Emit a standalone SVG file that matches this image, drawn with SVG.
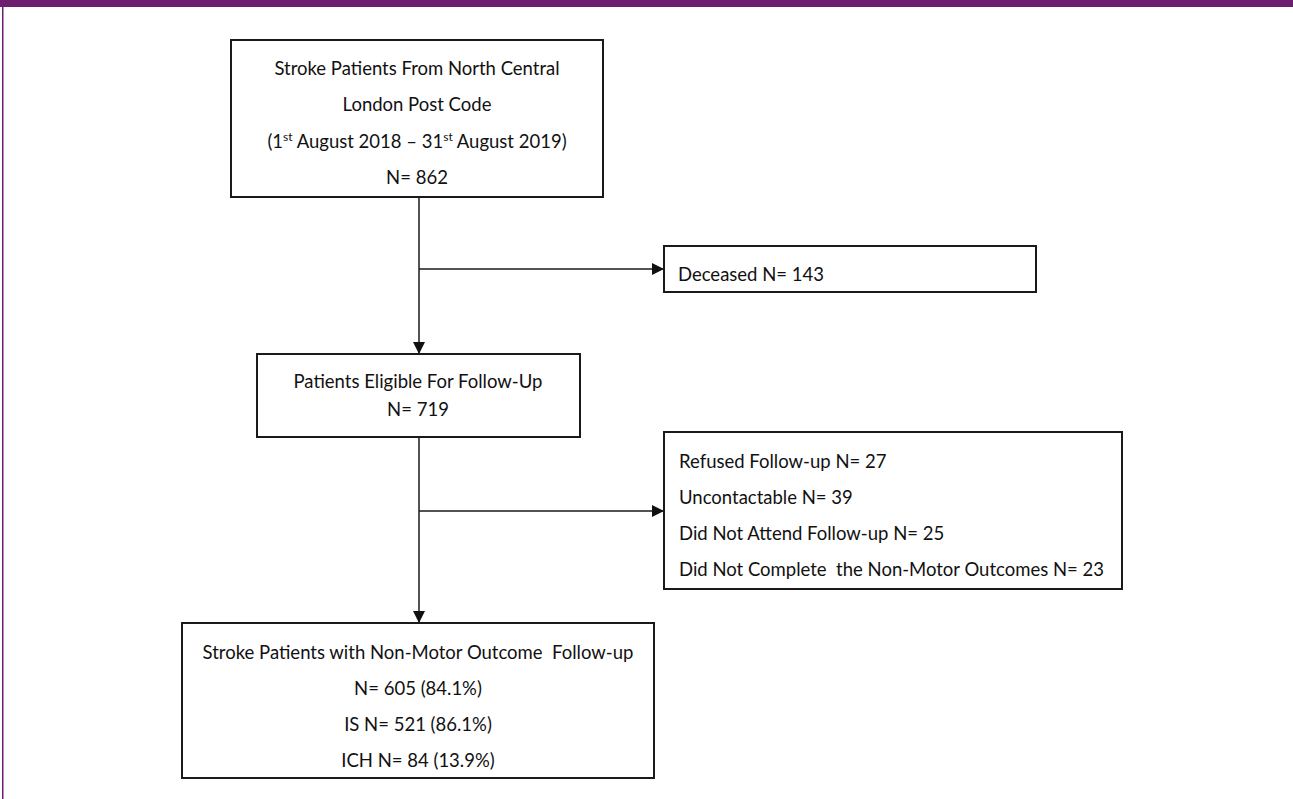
<svg xmlns="http://www.w3.org/2000/svg" width="1293" height="799" viewBox="0 0 1293 799">
<style>
.box{fill:#fff;stroke:#1a1a1a;stroke-width:2}
.t{font-family:Lato,"Liberation Sans",sans-serif;font-size:18.5px;fill:#111}
.c{text-anchor:middle}
.ln{stroke:#1a1a1a;stroke-width:1.5;fill:none}
</style>
<defs>
<marker id="ah" viewBox="0 0 12 12" refX="12" refY="6" markerWidth="12" markerHeight="12" markerUnits="userSpaceOnUse" orient="auto">
<path d="M0,0 L12,6 L0,12 Z" fill="#111"/>
</marker>
</defs>
<rect x="0" y="0" width="1293" height="799" fill="#fff"/>
<rect x="0" y="0" width="1293" height="7" fill="#6b1f6e"/>
<rect x="2" y="0" width="1.5" height="799" fill="#6b1f6e"/>
<g id="connectors">
<line class="ln" x1="419" y1="197" x2="419" y2="354" marker-end="url(#ah)"/>
<line class="ln" x1="419" y1="269" x2="664" y2="269" marker-end="url(#ah)"/>
<line class="ln" x1="419" y1="437" x2="419" y2="623" marker-end="url(#ah)"/>
<line class="ln" x1="419" y1="511" x2="664" y2="511" marker-end="url(#ah)"/>
</g>
<g id="n1">
<rect class="box" x="231" y="40" width="372" height="157"/>
<text class="t c" x="417" y="75">Stroke Patients From North Central</text>
<text class="t c" x="417" y="111">London Post Code</text>
<text class="t c" x="417" y="148">(1<tspan font-size="12" dy="-7">st</tspan><tspan dy="7"> August 2018 – 31</tspan><tspan font-size="12" dy="-7">st</tspan><tspan dy="7"> August 2019)</tspan></text>
<text class="t c" x="417" y="184">N= 862</text>
</g>
<g id="n2">
<rect class="box" x="664" y="246" width="372" height="46"/>
<text class="t" x="678" y="281">Deceased N= 143</text>
</g>
<g id="n3">
<rect class="box" x="257" y="354" width="323" height="83"/>
<text class="t c" x="418" y="388">Patients Eligible For Follow-Up</text>
<text class="t c" x="418" y="416">N= 719</text>
</g>
<g id="n4">
<rect class="box" x="664" y="432" width="458" height="157"/>
<text class="t" x="679" y="468">Refused Follow-up N= 27</text>
<text class="t" x="679" y="504">Uncontactable N= 39</text>
<text class="t" x="679" y="540">Did Not Attend Follow-up N= 25</text>
<text class="t" x="679" y="576" xml:space="preserve">Did Not Complete  the Non-Motor Outcomes N= 23</text>
</g>
<g id="n5">
<rect class="box" x="182" y="623" width="472" height="155"/>
<text class="t c" x="418" y="659" xml:space="preserve">Stroke Patients with Non-Motor Outcome  Follow-up</text>
<text class="t c" x="418" y="695">N= 605 (84.1%)</text>
<text class="t c" x="418" y="731">IS N= 521 (86.1%)</text>
<text class="t c" x="418" y="767">ICH N= 84 (13.9%)</text>
</g>
</svg>
